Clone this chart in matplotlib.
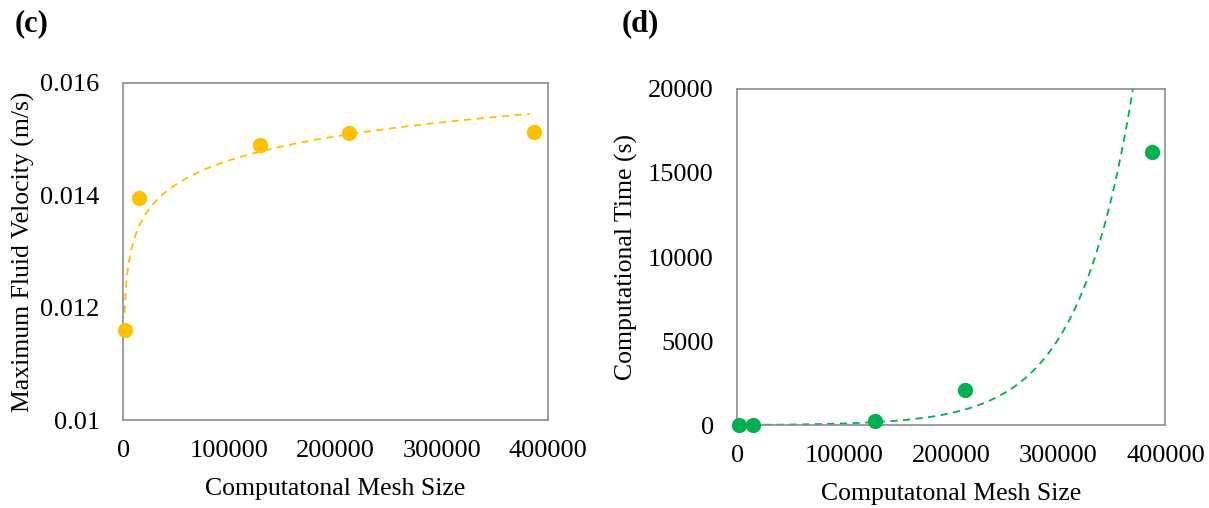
import matplotlib.pyplot as plt
import numpy as np

plt.rcParams['font.family'] = ['Liberation Serif', 'DejaVu Serif']

# mesh sizes shared by both panels
mesh_size = [1200, 14800, 128500, 213000, 387500]
max_velocity = [0.0116, 0.01395, 0.01489, 0.0151, 0.01513]
comp_time = [8, 20, 260, 2080, 16230]

orange = '#FFC000'
green = '#00B050'
frame = '#8c8c8c'

fig = plt.figure(figsize=(12.09, 5.08), dpi=100)

def style_axes(ax):
    for s in ax.spines.values():
        s.set_color(frame)
        s.set_linewidth(1.2)
    ax.tick_params(length=0, labelsize=19)
    ax.set_xlim(0, 400000)
    ax.set_xticks([0, 100000, 200000, 300000, 400000])
    ax.set_xticklabels(['0', '100000', '200000', '300000', '400000'])
    ax.tick_params(axis='x', pad=14)
    ax.tick_params(axis='y', pad=17)
    ax.set_xlabel('Computatonal Mesh Size', fontsize=18.5, labelpad=12)

# (c) velocity with logarithmic trendline
ax1 = fig.add_axes([0.102, 0.173, 0.351, 0.664])
style_axes(ax1)
x = np.array(mesh_size, dtype=float)
coef = np.polyfit(np.log(x), max_velocity, 1)
xf = np.linspace(x[0], 383000, 400)
ax1.plot(xf, coef[0] * np.log(xf) + coef[1], color=orange, ls=(0, (4, 3)), lw=1.3)
ax1.plot(x, max_velocity, 'o', color=orange, ms=10, clip_on=False, zorder=5)
ax1.set_ylim(0.01, 0.016)
ax1.set_yticks([0.01, 0.012, 0.014, 0.016])
ax1.set_yticklabels(['0.01', '0.012', '0.014', '0.016'])
ax1.set_ylabel('Maximum Fluid Velocity (m/s)', fontsize=18.5, labelpad=4)
fig.text(0.012, 0.953, '(c)', fontsize=22, fontweight='bold', va='center')

# (d) computational time with exponential trendline
ax2 = fig.add_axes([0.610, 0.163, 0.354, 0.662])
style_axes(ax2)
coef2 = np.polyfit(x, np.log(comp_time), 1)
xf2 = np.linspace(x[0], x[-1], 400)
ax2.plot(xf2, np.exp(coef2[1]) * np.exp(coef2[0] * xf2), color=green, ls=(0, (4, 3)), lw=1.3)
ax2.plot(x, comp_time, 'o', color=green, ms=10, clip_on=False, zorder=5)
ax2.set_ylim(0, 20000)
ax2.set_yticks([0, 5000, 10000, 15000, 20000])
ax2.set_ylabel('Computational Time (s)', fontsize=18.5, labelpad=7)
fig.text(0.514, 0.953, '(d)', fontsize=22, fontweight='bold', va='center')

fig.savefig('out.png', dpi=100)
